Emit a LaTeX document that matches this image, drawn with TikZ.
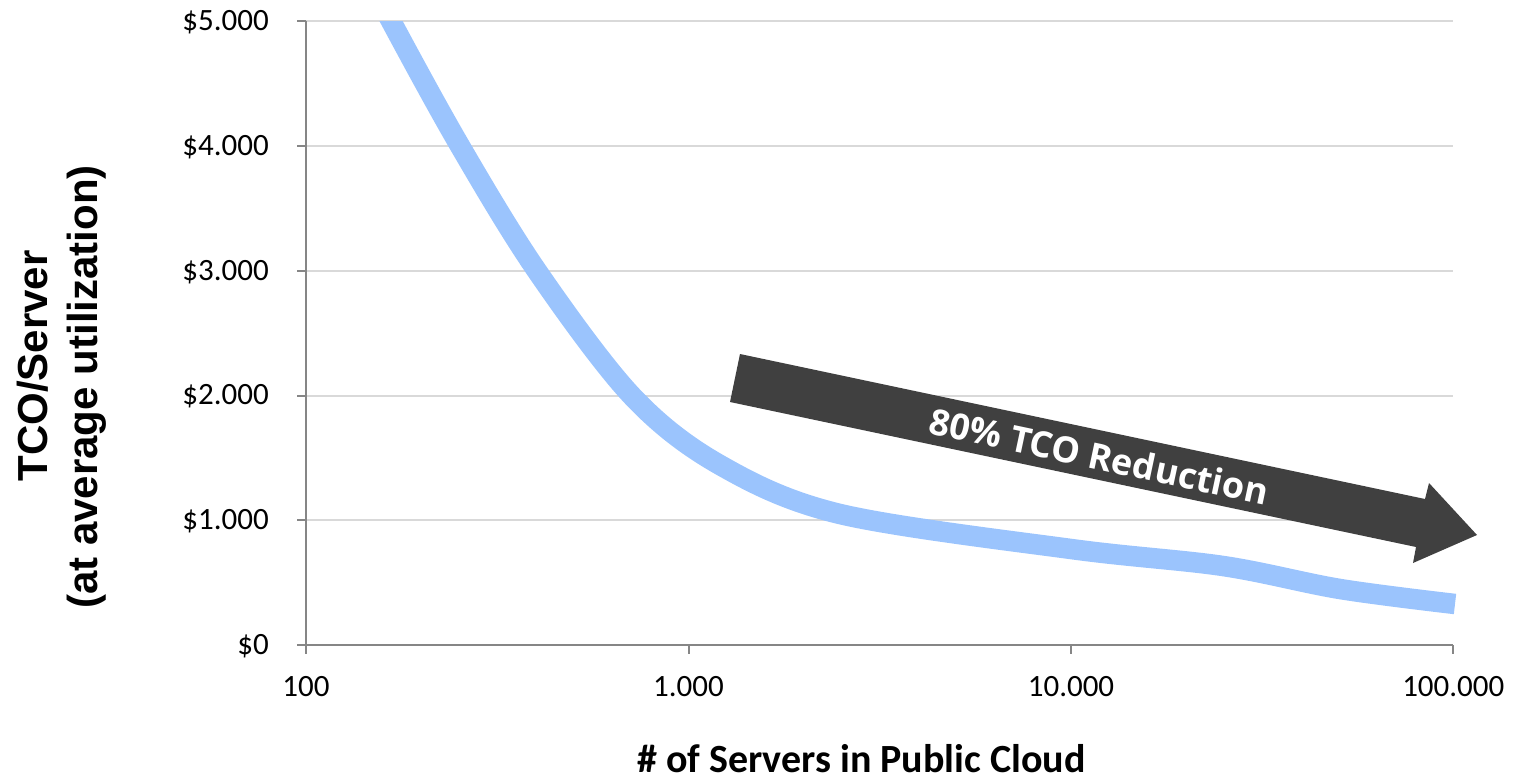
\documentclass[tikz,border=0pt]{standalone}
\usepackage{fontspec}
\setmainfont{Carlito}
\newfontfamily\arialfont{Liberation Sans}
\newfontfamily\opensans{Open Sans}
\definecolor{curveblue}{RGB}{155,196,253}
\definecolor{arrowgray}{RGB}{64,64,64}
\definecolor{gridgray}{RGB}{217,217,217}
\definecolor{axisgray}{RGB}{134,134,134}
\begin{document}
\begin{tikzpicture}[x=1pt,y=-1pt,
  gridline/.style={draw=gridgray,line width=2pt},
  axisline/.style={draw=axisgray,line width=2pt},
  ticklabel/.style={font=\fontsize{31}{37}\selectfont,inner sep=0pt},
  ytitle/.style={font=\arialfont\bfseries\fontsize{42}{50}\selectfont,inner sep=0pt,rotate=90,anchor=base},
  xtitle/.style={font=\bfseries\fontsize{40}{48}\selectfont,inner sep=0pt,anchor=base},
  curve/.style={draw=curveblue,line width=20.5pt,line cap=butt,line join=round},
  bigarrow/.style={fill=arrowgray,draw=none},
  arrowtext/.style={font=\opensans\bfseries\fontsize{36}{42}\selectfont,text=white,rotate=-12,inner sep=0pt}]
\path[use as bounding box] (0,0) rectangle (1513,779);
% gridlines
\foreach \y in {520.25,395.5,270.75,146,21.25}
  \draw[gridline] (306,\y) -- (1453,\y);
% curve
\begin{scope}
  \clip (306,21.25) rectangle (1470,700);
  \draw[curve] plot[smooth,tension=0.55] coordinates {(352,-55) (391,21) (460,146) (537,271) (632,396) (720,465) (840,514) (1071,549) (1223,566) (1340,589) (1455,604)};
\end{scope}
% axes
\draw[axisline] (306,21.25) -- (306,645);
\draw[axisline] (297,645) -- (1453,645);
\foreach \y in {21.25,146,270.75,395.5,520.25}
  \draw[axisline] (297,\y) -- (306,\y);
\foreach \x in {306,688.5,1071,1453.3}
  \draw[axisline] (\x,645) -- (\x,654);
% y tick labels
\node[ticklabel,anchor=base east] (y5) at (269,30.5) {\$5.000};
\node[ticklabel,anchor=base east] (y4) at (269,155.25) {\$4.000};
\node[ticklabel,anchor=base east] (y3) at (269,280) {\$3.000};
\node[ticklabel,anchor=base east] (y2) at (269,404.75) {\$2.000};
\node[ticklabel,anchor=base east] (y1) at (269,529.5) {\$1.000};
\node[ticklabel,anchor=base east] (y0) at (269,654.25) {\$0};
% x tick labels
\node[ticklabel,anchor=base] (x100) at (306,696) {100};
\node[ticklabel,anchor=base] (x1k) at (688.5,696) {1.000};
\node[ticklabel,anchor=base] (x10k) at (1071,696) {10.000};
\node[ticklabel,anchor=base] (x100k) at (1453.3,696) {100.000};
% axis titles
\node[ytitle] (ytitleA) at (47,366) {TCO/Server};
\node[ytitle] (ytitleB) at (97,387) {(at average utilization)};
\node[xtitle] (xtitle) at (861.5,772) {\# of Servers in Public Cloud};
% arrow
\path[bigarrow] (740,354) -- (1425,499) -- (1429,483) -- (1477,535) -- (1413,563) -- (1416,547) -- (730,402) -- cycle;
\node[arrowtext] (arrowlabel) at (1099,456) {80\% TCO Reduction};
\end{tikzpicture}
\end{document}
